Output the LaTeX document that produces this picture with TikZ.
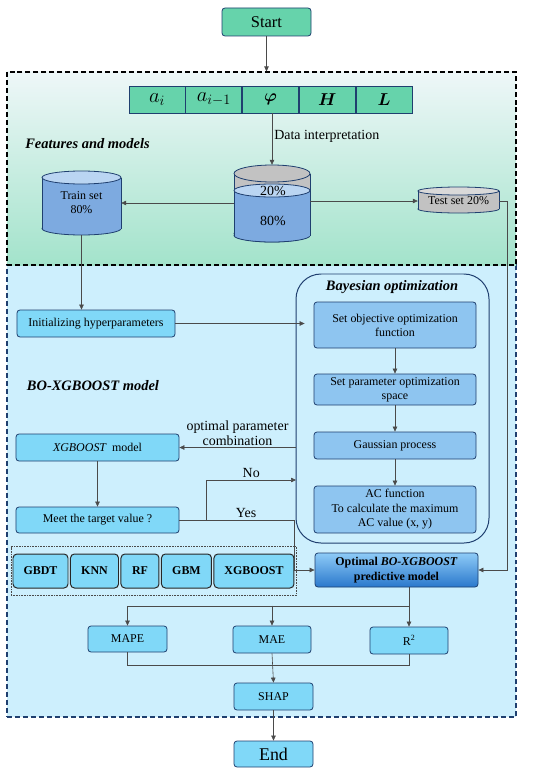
\documentclass[tikz,border=0pt]{standalone}
\usepackage{amsmath}
\usepackage{fontspec}
\setmainfont{Liberation Serif}
\usetikzlibrary{positioning,arrows.meta,shapes.geometric,fit,calc,backgrounds}
\definecolor{fmGreen}{HTML}{66D3AB}
\definecolor{fmEdge}{HTML}{1F3F6F}
\definecolor{fmTopA}{HTML}{EEF7F8}
\definecolor{fmTopB}{HTML}{A3E3CB}
\definecolor{fmBack}{HTML}{CDEFFD}
\definecolor{fmCyan}{HTML}{80D8F8}
\definecolor{fmBo}{HTML}{8EC5F0}
\definecolor{fmCyl}{HTML}{7DAAE0}
\definecolor{fmCylL}{HTML}{BAD5F2}
\definecolor{fmGray}{HTML}{C2C2C2}
\definecolor{fmGrayL}{HTML}{D9D9D9}
\definecolor{fmOptA}{HTML}{8ECBF7}
\definecolor{fmOptB}{HTML}{2A78CC}
\definecolor{fmLine}{HTML}{4A4A4A}
\tikzset{
  fm-box/.style={
    draw=fmEdge, line width=0.8pt, rounded corners=3pt,
    fill=fmCyan, font=\fontsize{12}{14}\selectfont, align=center,
    inner sep=1pt
  },
  fm-green/.style={fm-box, fill=fmGreen},
  fm-bo/.style={fm-box, fill=fmBo, minimum width=162bp},
  fm-cell/.style={draw=fmEdge, line width=0.8pt, fill=fmGreen,
    minimum width=56bp, minimum height=27bp, inner sep=0pt,
    font=\fontsize{17}{17}\selectfont},
  fm-model/.style={fm-box, draw=black!85, line width=1pt, rounded corners=4pt,
    minimum height=34bp, font=\bfseries\fontsize{12}{13}\selectfont},
  fm-cyltext/.style={inner sep=0pt, align=center,
    font=\fontsize{12}{14}\selectfont},
  fm-flow/.style={-{Triangle[length=5pt,width=4.5pt]}, line width=0.6pt,
    draw=fmLine},
  fm-line/.style={line width=0.6pt, draw=fmLine},
  fm-label/.style={font=\fontsize{14}{15}\selectfont, inner sep=2pt},
  fm-title/.style={font=\bfseries\itshape\fontsize{14.5}{15}\selectfont}
}
% cylinder: x, top, bottom, half width, ellipse radius, body, end
\newcommand{\fmCylinder}[7]{%
  \filldraw[fill=#6, draw=fmEdge, line width=0.8pt]
    ({#1},{#3-#5}) ellipse [x radius=#4, y radius=#5];
  \fill[#6] ({#1-#4},{#2+#5}) rectangle ({#1+#4},{#3-#5});
  \draw[fmEdge, line width=0.8pt] ({#1-#4},{#2+#5}) -- ({#1-#4},{#3-#5})
    ({#1+#4},{#2+#5}) -- ({#1+#4},{#3-#5});
  \filldraw[fill=#7, draw=fmEdge, line width=0.8pt]
    ({#1},{#2+#5}) ellipse [x radius=#4, y radius=#5];
}

\begin{document}
\begin{tikzpicture}[x=1bp, y=-1bp]
\useasboundingbox (0,0) rectangle (550,774);

% regions
\node[draw=fmEdge, line width=1.1pt, dash pattern=on 5pt off 3pt,
  fill=fmBack, minimum width=509bp, minimum height=452bp] (bobox) at (261.5,491) {};
\node[draw=black, line width=1.1pt, dash pattern=on 5pt off 3pt,
  top color=fmTopA, bottom color=fmTopB,
  minimum width=509bp, minimum height=193bp] (featbox) at (261.5,168.5) {};

% start
\node[fm-green, minimum width=89bp, minimum height=28bp,
  font=\fontsize{16.5}{17}\selectfont] (start) at (266.5,22) {Start};

% features
\node[fm-cell, font=\fontsize{20}{20}\selectfont] (f1) at (157,99.5) {$a_i$};
\node[fm-cell, font=\fontsize{20}{20}\selectfont, right=0bp of f1] (f2) {$a_{i-1}$};
\node[fm-cell, right=0bp of f2] (f3) {$\boldsymbol{\varphi}$};
\node[fm-cell, right=0bp of f3] (f4) {$\boldsymbol{H}$};
\node[fm-cell, right=0bp of f4] (f5) {$\boldsymbol{L}$};

\node[fm-title] (feattitle) at (87.5,144) {Features and models};

% data sets
\fmCylinder{272}{165}{242}{38}{8.5}{fmGray}{fmGray}
\fmCylinder{272}{184}{242}{38}{6.5}{fmCyl}{fmCylL}
\node[minimum width=76bp, minimum height=77bp] (midset) at (272,203.5) {};
\node[fm-cyltext, font=\fontsize{14}{14}\selectfont] (mid20) at (273,191) {20\%};
\node[fm-cyltext, font=\fontsize{14}{14}\selectfont] (mid80) at (273,221) {80\%};

\fmCylinder{81.5}{171}{235}{39.5}{6.5}{fmCyl}{fmCylL}
\node[fm-cyltext, minimum width=79bp, minimum height=64bp] (train)
  at (81.5,203) {Train set\\80\%};
\fmCylinder{458.5}{187}{213}{40.5}{4}{fmGray}{fmGrayL}
\node[fm-cyltext, minimum width=81bp, minimum height=26bp] (test)
  at (458.5,201) {Test set 20\%};

% BO-XGBOOST part
\node[fm-box, minimum width=158bp, minimum height=27bp] (init)
  at (96,323.5) {Initializing hyperparameters};
\node[fm-title] (botitle) at (93,386) {BO-XGBOOST model};
\node[fm-box, minimum width=163bp, minimum height=27bp] (xgb)
  at (97.5,447.5) {$\mathit{XGBOOST}$\ \ model};
\node[fm-box, minimum width=163bp, minimum height=26bp] (meet)
  at (97.5,520) {Meet the target value ?};

% Bayesian optimization
\node[draw=fmEdge, line width=1pt, rounded corners=25bp, fill=fmBack,
  minimum width=193bp, minimum height=269bp] (bo) at (392.5,408.5) {};
\node[fm-title] (bayes) at (392,287) {Bayesian optimization};
\node[fm-bo, minimum height=46bp] (obj) at (395,325)
  {Set objective optimization\\function};
\node[fm-bo, minimum height=31bp] (space) at (395,389.5)
  {Set parameter optimization\\space};
\node[fm-bo, minimum height=27bp] (gp) at (395,445.5) {Gaussian process};
\node[fm-bo, minimum height=47bp, font=\fontsize{12}{14.5}\selectfont]
  (acf) at (395,509.5)
  {AC function\\To calculate the maximum\\AC value (x, y)};

% models
\node[fm-model, minimum width=55bp] (gbdt) at (40.5,571) {GBDT};
\node[fm-model, minimum width=48bp, right=1.5bp of gbdt] (knn) {KNN};
\node[fm-model, minimum width=38bp, right=1.5bp of knn] (rf) {RF};
\node[fm-model, minimum width=50bp, right=1.5bp of rf] (gbm) {GBM};
\node[fm-model, minimum width=80bp, right=1.5bp of gbm] (xgbm) {XGBOOST};
\node[fit=(gbdt)(xgbm), draw=fmLine, densely dotted, line width=0.6pt,
  inner xsep=1.5bp, inner ysep=7bp] (models) {};

\node[fm-box, minimum width=163bp, minimum height=34bp, draw=fmEdge,
  top color=fmOptA, bottom color=fmOptB,
  font=\bfseries\fontsize{12}{15}\selectfont] (opt) at (396.5,570)
  {Optimal \textit{BO-XGBOOST}\\predictive model};

% metrics
\node[fm-box, minimum width=79bp, minimum height=26bp] (mape) at (127.5,639) {MAPE};
\node[fm-box, minimum width=78bp, minimum height=27bp] (mae) at (272,639.5) {MAE};
\node[fm-box, minimum width=78bp, minimum height=27bp] (r2) at (409,640.5) {R\textsuperscript{2}};
\node[fm-box, minimum width=79bp, minimum height=27bp] (shap) at (273.5,696.5) {SHAP};
\node[fm-box, minimum width=79bp, minimum height=26bp,
  font=\fontsize{18}{18}\selectfont] (end) at (273.5,754) {End};

\coordinate (noend) at (296,480);

% connectors
\draw[fm-flow] (start.south) -- (start.south |- featbox.north);
\draw[fm-flow] (midset.north |- f3.south) --
  node[fm-label, right, pos=0.45] {Data interpretation} (midset.north);
\draw[fm-flow] (train -| midset.west) -- (train.east);
\draw[fm-flow] (test -| midset.east) -- (test.west);
\draw[fm-flow] (test.east) -- ++(8,0) |- (opt.east);
\draw[fm-flow] (train.south) -- (train.south |- init.north);
\draw[fm-flow] (init.east) -- ([xshift=-9bp]init -| obj.west);
\draw[fm-flow] (obj) -- (space);
\draw[fm-flow] (space) -- (gp);
\draw[fm-flow] (gp) -- (acf);
\draw[fm-flow] (xgb -| bo.west) --
  node[fm-label, above, align=center] {optimal parameter\\combination} (xgb.east);
\draw[fm-flow] (xgb) -- (meet);
\draw[fm-flow] ($(meet.east)+(27,0)$) |- node[fm-label, pos=0.75, above] {No} (noend);
\draw[fm-flow] (meet.east) -- node[fm-label, pos=0.58, above] {Yes} ++(115,0)
  |- (opt.west);
\draw[fm-flow] (r2.north |- opt.south) -- (r2.north);
\draw[fm-flow] ($(r2.north |- opt.south)+(0,19)$) -| (mape.north);
\draw[fm-flow] ($(mae.north)+(0,-20)$) -- (mae.north);
\draw[fm-line] (mape.south) -- ++(0,13) -| (r2.south);
\draw[fm-flow] (mae.south) -- (shap.north);
\draw[fm-flow] (shap) -- (end);
\end{tikzpicture}
\end{document}
